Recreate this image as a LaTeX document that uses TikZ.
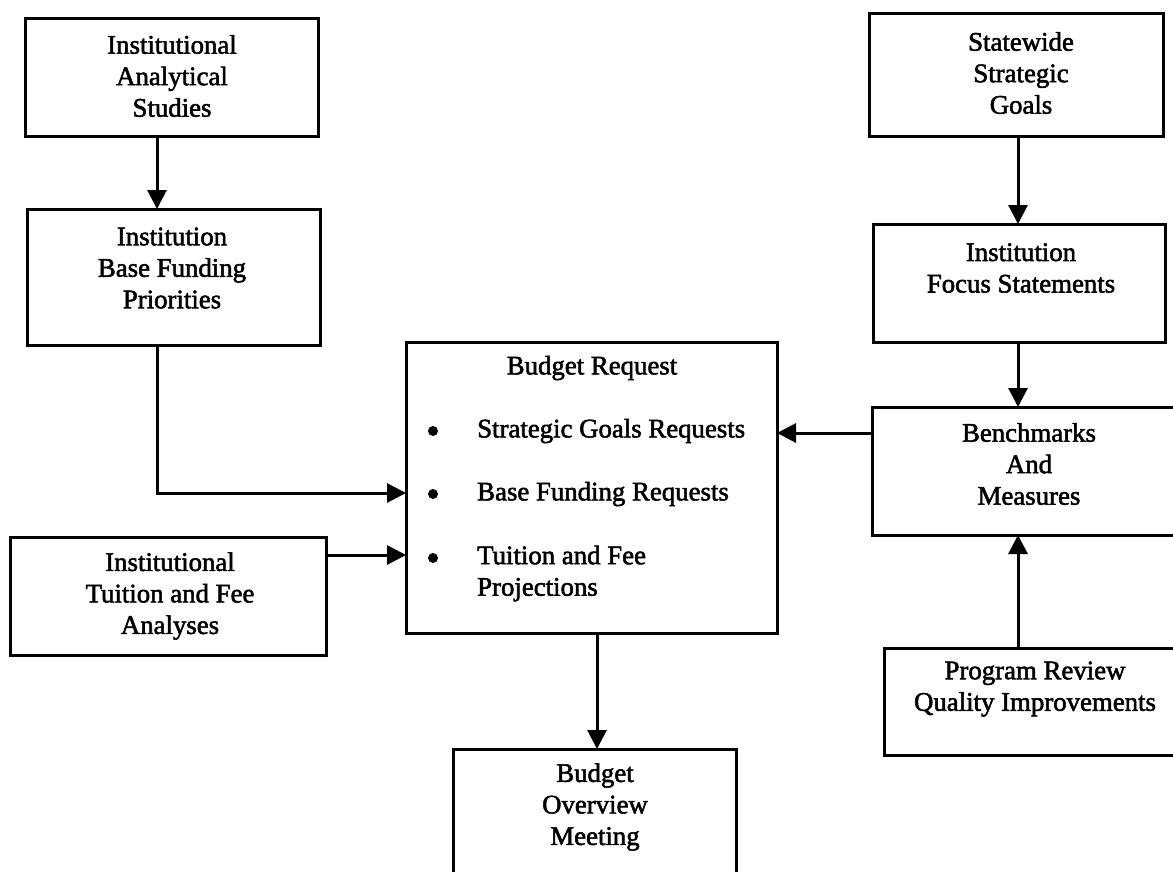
\documentclass[tikz,border=0pt]{standalone}
\usepackage{fontspec}
\setmainfont{Liberation Serif}[FakeBold=2]
\usetikzlibrary{arrows.meta}
\begin{document}
\begin{tikzpicture}[x=1pt, y=-1pt,
  box/.style={draw, line width=3pt, inner sep=0pt, outer sep=0pt},
  lbl/.style={font=\fontsize{26.8}{31.5}\selectfont, align=center, inner sep=0pt},
  item/.style={lbl, align=left, anchor=west},
  dot/.style={circle, fill, inner sep=0pt, minimum size=10pt},
  link/.style={line width=3pt, -{Triangle[length=19pt,width=19pt]}},
]
\useasboundingbox (0,0) rectangle (1173,871);
\clip (0,0) rectangle (1173,871);

% boxes
\node[box, minimum width=293pt, minimum height=118pt] (studies)    at (171.5,77)   {};
\node[box, minimum width=293pt, minimum height=136pt] (priorities) at (173.5,277)  {};
\node[box, minimum width=294pt, minimum height=123pt] (goals)      at (1016,74.5)  {};
\node[box, minimum width=292pt, minimum height=118pt] (focus)      at (1019,283)   {};
\node[box, minimum width=371pt, minimum height=291pt] (budget)     at (591.5,487.5){};
\node[box, minimum width=316pt, minimum height=128pt] (measures)   at (1030,471)   {};
\node[box, minimum width=316pt, minimum height=118pt] (tuition)    at (168,596)    {};
\node[box, minimum width=302pt, minimum height=107pt] (quality)    at (1035,701.5) {};
\node[box, minimum width=283pt, minimum height=141pt] (meeting)    at (594.5,819.5){};

% labels
\node[lbl] (studies-t)    at (172,76)   {Institutional\\Analytical\\Studies};
\node[lbl] (priorities-t) at (172,268)  {Institution\\Base Funding\\Priorities};
\node[lbl] (goals-t)      at (1021,73)  {Statewide\\Strategic\\Goals};
\node[lbl] (focus-t)      at (1021,268) {Institution\\Focus Statements};
\node[lbl] (budget-t)     at (592,368)  {Budget Request};
\node[lbl] (measures-t)   at (1029,464) {Benchmarks\\And\\Measures};
\node[lbl] (tuition-t)    at (170,596)  {Institutional\\Tuition and Fee\\Analyses};
\node[lbl] (quality-t)    at (1035,689) {Program Review\\Quality Improvements};
\node[lbl] (meeting-t)    at (595,807)  {Budget\\Overview\\Meeting};

% bullet list inside the budget request
\node[dot] (b1) at (433,431) {};
\node[dot] (b2) at (433,494) {};
\node[dot] (b3) at (433,558) {};
\node[item] (i1) at (477,431)   {Strategic Goals Requests};
\node[item] (i2) at (477,494)   {Base Funding Requests};
\node[item] (i3) at (477,573.5) {Tuition and Fee\\Projections};

% connector rails
\coordinate (xL) at (157,0);
\coordinate (xR) at (1018,0);
\coordinate (xM) at (597,0);
\coordinate (yBase) at (0,493);
\coordinate (yFee) at (0,555);
\coordinate (ySG) at (0,433);

% connectors
\draw[link] (studies.south -| xL) -- (priorities.north -| xL);
\draw[link] (priorities.south -| xL) |- (budget.west |- yBase);
\draw[link] (tuition.east |- yFee) -- (budget.west |- yFee);
\draw[link] (measures.west |- ySG) -- (budget.east |- ySG);
\draw[link] (goals.south -| xR) -- (focus.north -| xR);
\draw[link] (focus.south -| xR) -- (measures.north -| xR);
\draw[link] (quality.north -| xR) -- (measures.south -| xR);
\draw[link] (budget.south -| xM) -- (meeting.north -| xM);
\end{tikzpicture}
\end{document}
